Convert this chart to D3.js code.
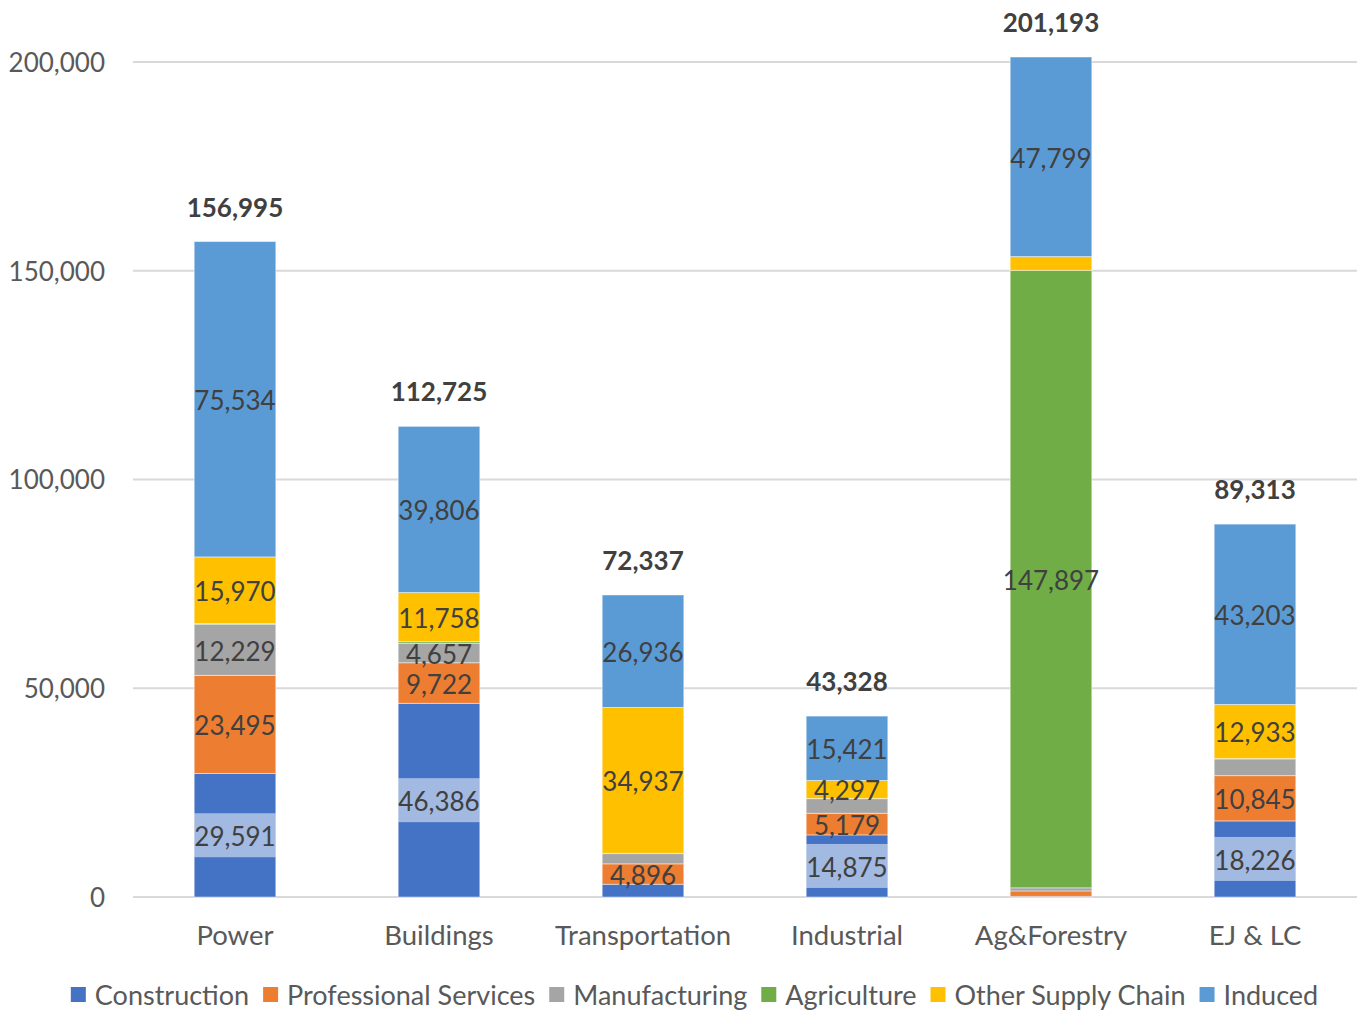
<!DOCTYPE html>
<html>
<head>
<meta charset="utf-8">
<script src="https://cdn.jsdelivr.net/npm/d3@7"></script>
<style>
  body { margin: 0; background: #fff; }
  text { font-family: Lato, "Open Sans", sans-serif; }
</style>
</head>
<body>
<svg id="chart" width="1359" height="1010"></svg>
<script>
// categories + series
var categories = ["Power", "Buildings", "Transportation", "Industrial", "Ag&Forestry", "EJ & LC"];
var seriesNames = ["Construction", "Professional Services", "Manufacturing", "Agriculture", "Other Supply Chain", "Induced"];
var construction = [29591, 46386, 3050, 14875, 150, 18226];
var professional = [23495, 9722, 4896, 5179, 1300, 10845];
var manufacturing = [12229, 4657, 2450, 3500, 750, 4000];
var agriculture = [176, 396, 68, 56, 147897, 106];
var otherSupply = [15970, 11758, 34937, 4297, 3297, 12933];
var induced = [75534, 39806, 26936, 15421, 47799, 43203];
var totals = [156995, 112725, 72337, 43328, 201193, 89313];
var yTicks = [0, 50000, 100000, 150000, 200000];

var colors = ["#4472C4", "#ED7D31", "#A5A5A5", "#70AD47", "#FFC000", "#5B9BD5"];
var allSeries = [construction, professional, manufacturing, agriculture, otherSupply, induced];

var rows = categories.map(function(c, i) {
   var r = {cat: c};
   seriesNames.forEach(function(s, j) { r[s] = allSeries[j][i]; });
   return r;
});

var svg = d3.select("#chart");
var x = d3.scaleBand().domain(categories).range([133, 1357]).paddingInner(0.6).paddingOuter(0.3);
var y = d3.scaleLinear().domain([0, 200000]).range([897, 62]);
var fmt = d3.format(",");

// gridlines
svg.append("g").selectAll("line").data(yTicks).join("line")
   .attr("x1", 133).attr("x2", 1357)
   .attr("y1", function(d) { return y(d); }).attr("y2", function(d) { return y(d); })
   .attr("stroke", "#D9D9D9").attr("stroke-width", 2);

// y tick labels
svg.append("g").selectAll("text").data(yTicks).join("text")
   .attr("x", 105).attr("y", function(d) { return y(d); })
   .attr("dy", "0.38em").attr("text-anchor", "end")
   .attr("font-size", 26).attr("fill", "#595959")
   .text(function(d) { return fmt(d); });

var stacked = d3.stack().keys(seriesNames)(rows);

var layers = svg.append("g").selectAll("g").data(stacked).join("g")
   .attr("fill", function(d, i) { return colors[i]; });
layers.selectAll("rect").data(function(d) { return d; }).join("rect")
   .attr("x", function(d) { return x(d.data.cat); })
   .attr("width", x.bandwidth())
   .attr("y", function(d) { return y(d[1]); })
   .attr("height", function(d) { return y(d[0]) - y(d[1]); })
   .attr("stroke", "#fff").attr("stroke-opacity", 0.45).attr("stroke-width", 1);

// segment labels
var lbl = svg.append("g");
stacked.forEach(function(layer, i) {
   layer.forEach(function(d) {
      var v = d[1] - d[0];
      if (v < 4200) return;
      var cy = y((d[0] + d[1]) / 2);
      if (i === 0) {
         // construction labels carry a half-white box as wide as the bar
         lbl.append("rect")
            .attr("x", x(d.data.cat)).attr("width", x.bandwidth())
            .attr("y", cy - 22).attr("height", 44)
            .attr("fill", "#fff").attr("fill-opacity", 0.5);
      }
      lbl.append("text")
         .attr("x", x(d.data.cat) + x.bandwidth() / 2).attr("y", cy)
         .attr("dy", "0.42em").attr("text-anchor", "middle")
         .attr("font-size", 26).attr("fill", "#404040")
         .text(fmt(v));
   });
});

// totals
svg.append("g").selectAll("text").data(categories).join("text")
   .attr("x", function(d) { return x(d) + x.bandwidth() / 2; })
   .attr("y", function(d, i) { return y(totals[i]) - 25; })
   .attr("text-anchor", "middle")
   .attr("font-size", 26).attr("font-weight", "bold").attr("fill", "#404040")
   .text(function(d, i) { return fmt(totals[i]); });

// category labels
svg.append("g").selectAll("text").data(categories).join("text")
   .attr("x", function(d) { return x(d) + x.bandwidth() / 2; })
   .attr("y", 935).attr("dy", "0.38em")
   .attr("text-anchor", "middle")
   .attr("font-size", 27.5).attr("fill", "#595959")
   .text(function(d) { return d; });

// legend
var leg = svg.append("g");
var lx = 0;
seriesNames.forEach(function(s, i) {
   var g = leg.append("g").attr("transform", "translate(" + lx + ",0)");
   g.append("rect").attr("x", 0).attr("y", -8).attr("width", 15).attr("height", 15).attr("fill", colors[i]);
   var t = g.append("text").attr("x", 24).attr("y", 0).attr("dy", "0.38em")
      .attr("font-size", 27).attr("fill", "#595959").text(s);
   lx += 24 + t.node().getComputedTextLength() + 14;
});
lx -= 14;
leg.attr("transform", "translate(" + (694.5 - lx / 2) + ",995)");
</script>
</body>
</html>
